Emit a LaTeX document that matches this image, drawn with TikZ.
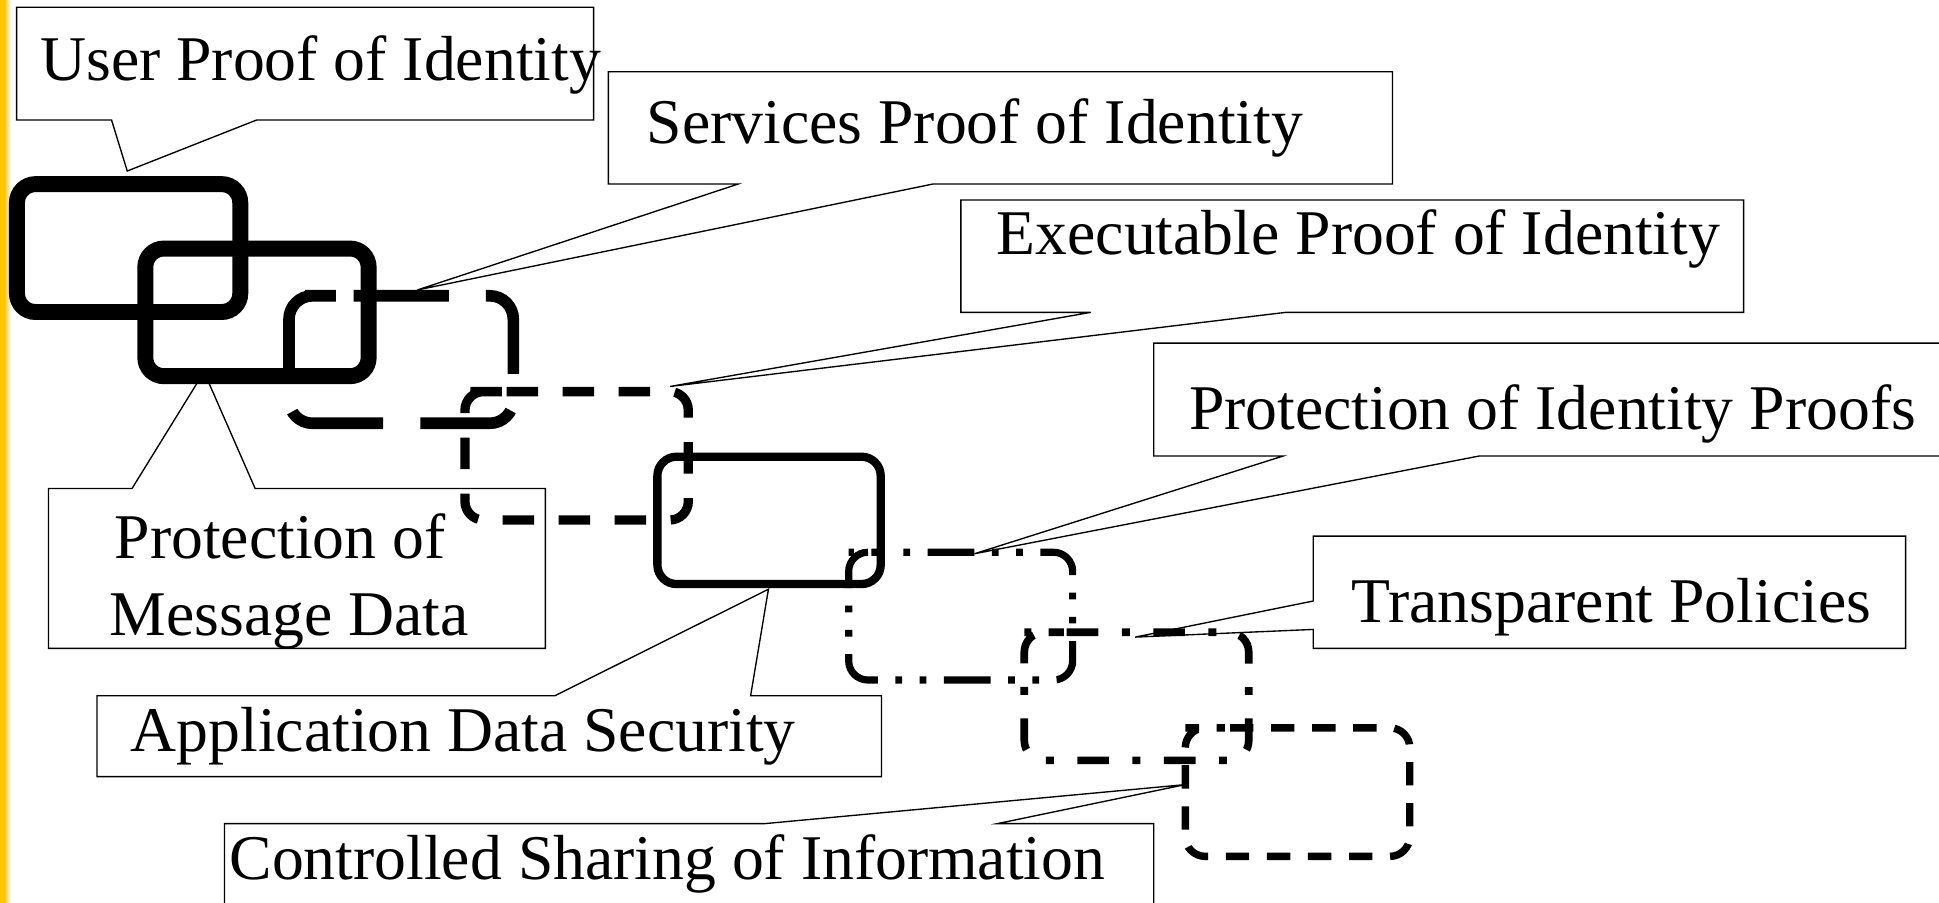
\documentclass[tikz,border=0pt]{standalone}
\usepackage{fontspec}
\setmainfont{Liberation Serif}
\definecolor{baryellow}{RGB}{255,199,0}
\tikzset{
  callout/.style={draw=black, line width=1.1pt, fill=white, line join=miter},
  lbl/.style={anchor=base west, inner sep=0pt, outer sep=0pt, font=\fontsize{51.5}{61.5}\selectfont},
  heavyring/.style={draw=black, line width=12.9pt, rounded corners=15pt},
  dashring/.style={draw=black, line width=9.4pt, rounded corners=19pt, dash pattern=on 77pt off 30pt, dash phase=92.7pt},
  shortdashring/.style={draw=black, line width=7.5pt, rounded corners=15pt, dash pattern=on 25.5pt off 19.8pt, dash phase=41.6pt},
  solidring/.style={draw=black, line width=6.7pt, rounded corners=15.5pt},
  dashdotdotring/.style={draw=black, line width=5.8pt, rounded corners=15.5pt, dash pattern=on 37.8pt off 14.2pt on 5.4pt off 14.2pt on 5.4pt off 14.2pt, dash phase=58.4pt},
  dashdotring/.style={draw=black, line width=6.2pt, rounded corners=16pt, dash pattern=on 25.6pt off 19pt on 6.4pt off 19pt, dash phase=67.7pt},
  smalldashring/.style={draw=black, line width=6pt, rounded corners=16pt, dash pattern=on 18.9pt off 14.3pt, dash phase=29pt},
}
\begin{document}
\begin{tikzpicture}[x=1pt,y=-1pt]
\clip (0,0) rectangle (1568,730);
\fill[white] (0,0) rectangle (1568,730);
% left yellow bar
\fill[baryellow] (0,0) rectangle (5,730);
\shade[left color=baryellow!70!white, right color=white] (5,0) rectangle (9,730);

% callout tips
\coordinate (tUser) at (102.9,138.3);
\coordinate (tServ) at (337.5,234.5);
\coordinate (tExec) at (542,312.5);
\coordinate (tProt) at (788,447.8);
\coordinate (tTrans) at (918,515.2);
\coordinate (tCtrl) at (958.3,634.5);
\coordinate (tApp) at (621.4,476.5);
\coordinate (tMsg) at (165,300.7);

% callouts
\draw[callout] (13.4,5.9) -- (480,5.9) -- (480,97) -- (207.6,97) -- (tUser) -- (90.2,97) -- (13.4,97) -- cycle;
\draw[callout] (492,58) -- (1126,58) -- (1126,148.8) -- (754.5,148.8) -- (tServ) -- (597,148.8) -- (492,148.8) -- cycle;
\draw[callout] (777,161.7) -- (1410,161.7) -- (1410,252.6) -- (1039.7,252.6) -- (tExec) -- (882,252.6) -- (777,252.6) -- cycle;
\draw[callout] (933,277.5) -- (1600,277.5) -- (1600,368.8) -- (1196,368.8) -- (tProt) -- (1037.5,368.8) -- (933,368.8) -- cycle;
\draw[callout] (1062,433.5) -- (1541,433.5) -- (1541,524.3) -- (1062,524.3) -- (1062,509) -- (tTrans) -- (1062,486) -- cycle;
\draw[callout] (181.5,666) -- (618.8,666) -- (tCtrl) -- (806.7,666) -- (933,666) -- (933,760) -- (181.5,760) -- cycle;
\draw[callout] (78.4,562.6) -- (448.7,562.6) -- (tApp) -- (607,562.6) -- (712.8,562.6) -- (712.8,628) -- (78.4,628) -- cycle;
\draw[callout] (39.2,395) -- (106.8,395) -- (tMsg) -- (206.3,395) -- (441,395) -- (441,524.3) -- (39.2,524.3) -- cycle;

% texts
\node[lbl] (lUser) at (32.6,64.7) {User Proof of Identity};
\node[lbl] (lServ) at (523,116) {Services Proof of Identity};
\node[lbl] (lExec) at (806,206) {Executable Proof of Identity};
\node[lbl] (lProt) at (961.5,347.7) {Protection of Identity Proofs};
\node[lbl] (lTrans) at (1093,503.5) {Transparent Policies};
\node[lbl] (lMsgA) at (92.8,452) {Protection of};
\node[lbl] (lMsgB) at (88.7,513.5) {Message Data};
\node[lbl] (lApp) at (105.7,607.8) {Application Data Security};
\node[lbl] (lCtrl) at (185.7,711.6) {Controlled Sharing of Information};

% rings
\draw[heavyring] (13.7,148.9) rectangle (194.3,252.3);
\draw[heavyring] (117.5,201) rectangle (298.1,304.2);
\draw[dashring] (252.7,239.2) -- (415.1,239.2) -- (415.1,342.3) -- (233.7,342.3) -- (233.7,239.2) -- cycle;
\draw[shortdashring] (391,316.7) -- (556.6,316.7) -- (556.6,420.5) -- (376,420.5) -- (376,316.7) -- cycle;
\draw[solidring] (531.6,369.3) rectangle (712.2,472.3);
\draw[dashdotdotring] (701.8,446.6) -- (867.4,446.6) -- (867.4,549.9) -- (686.3,549.9) -- (686.3,446.6) -- cycle;
\draw[dashdotring] (844.3,511.3) -- (1009.8,511.3) -- (1009.8,614.9) -- (828.3,614.9) -- (828.3,511.3) -- cycle;
\draw[smalldashring] (974.5,588.6) -- (1140,588.6) -- (1140,692.5) -- (958.5,692.5) -- (958.5,588.6) -- cycle;
\end{tikzpicture}
\end{document}
